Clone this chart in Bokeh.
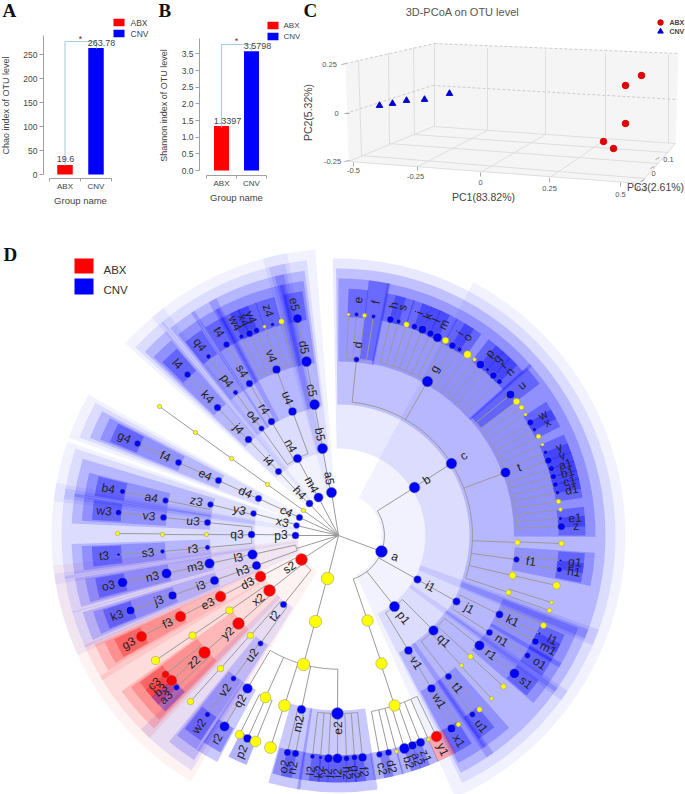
import numpy as np
from bokeh.plotting import figure
from bokeh.layouts import column, row
from bokeh.models import Range1d, FixedTicker, ColumnDataSource
from bokeh.core.properties import value
from bokeh.embed import file_html
from bokeh.resources import INLINE

# ---------- panel A / B data ----------
groups = ["ABX", "CNV"]
group_colors = ["#ff0000", "#0000ff"]
chao_values = [19.6, 263.78]
chao_labels = ["19.6", "263.78"]
chao_ticks = [0, 50, 100, 150, 200, 250]
shannon_values = [1.3397, 3.5798]
shannon_labels = ["1.3397", "3.5798"]
shannon_ticks = [0.0, 0.5, 1.0, 1.5, 2.0, 2.5, 3.0, 3.5]

# ---------- panel C data (projected positions) ----------
pcoa_abx_x = [641, 625, 625, 603, 613]
pcoa_abx_y = [75, 85, 123, 141, 148]
pcoa_cnv_x = [379, 392, 406, 424, 449]
pcoa_cnv_y = [105, 103, 100, 99, 93]

# ---------- panel D data: id, parent, position in the picture, class, size ----------
node_id = [
 "a","b","c","d","_d1","e","_d2","f",
 "g","h","s","_g1","i","k","l","m","_g2","i#2","o","_g3","_g4","p","q","r","n",
 "t","u","_t1","_t2","_t3","w","x","_t4","_t5","y","v","a1","b1","c1","d1","_t6","_t7","e1","z",
 "_c1","_c1a","f1","g1","h1","_c2","_c2a","_c3","_c3a","_c3b",
 "i1","j1","k1","_k1","l1","m1","n1","o1",
 "p1","q1","r1","s1","_q1","_q1a","_q2","_q2a","t1","u1","_t1b","v1","w1","x1","_w1",
 "_a2","_a3","_a4","c2","d2","_a5","b2","a2","z1","_a6","y1",
 "_L1","_L2","_L3","q2","r2","_m1","_m1a","p2","_m1b","_m2","_m2a","m2","o2","n2",
 "e2","l2","k2","j2","i2","h2","g2","f2",
 "s2","d3","e3","f3","g3","x2","_x1","_x2","_x3","y2","z2","c3","b3","a3",
 "t2","_u1","_u2","_u3","u2","v2","w2",
 "_hl","l3","m3","n3","o3","h3","i3","j3","k3",
 "p3","q3","u3","v3","w3","_q3","_q4","_q5","r3","s3","t3",
 "x3","y3","z3","a4","b4","c4","d4","e4","f4","g4","_e1","_e2","_e3","_e4","_e5",
 "h4","i4","j4","k4","l4",
 "m4","n4","o4","p4","q4","r4","s4","t4","u4","v4","w4","x4","y4","_v1","z4","_v2",
 "a5","b5","c5","d5","e5",
]
node_parent = [
 "","a","b","c","d","d","d","d",
 "c","g","g","g","g","g","g","g","g","g","g","g","g","g","g","g","g",
 "c","t","t","t","t","t","t","t","t","t","t","t","t","t","t","t","t","t","t",
 "c","_c1","c","f1","f1","c","_c2","c","_c3","_c3",
 "a","i1","j1","k1","k1","k1","j1","n1",
 "a","p1","q1","r1","q1","_q1","q1","_q2","q1","t1","t1","p1","v1","w1","w1",
 "a","_a2","_a3","_a4","_a4","_a4","_a4","_a4","_a4","_a4","_a4",
 "","_L1","_L2","_L3","q2","_L3","_m1","_m1","_m1","_L3","_m2","_L3","m2","m2",
 "_L3","e2","e2","e2","e2","e2","e2","e2",
 "","s2","d3","e3","f3","s2","x2","_x1","_x2","x2","y2","z2","z2","z2",
 "s2","t2","_u1","_u2","t2","u2","v2",
 "","_hl","l3","m3","n3","_hl","h3","i3","j3",
 "","p3","q3","u3","v3","q3","_q3","_q4","q3","r3","s3",
 "","x3","y3","z3","a4","","c4","d4","e4","f4","","_e1","_e2","_e3","_e4",
 "","h4","i4","j4","k4",
 "","m4","n4","o4","p4","n4","r4","s4","n4","u4","v4","v4","v4","v4","v4","v4",
 "","a5","b5","c5","d5",
]
node_x = [
 381,414,451,356,348,356,364,373,
 427,390,398,406,414,422,430,437,445,452,459,467,474,480,487,493,499,
 505,510,516,521,525,530,534,538,542,545,548,551,553,555,557,558,560,560,561,
 517,561,516,560,559,512,556,508,551,549,
 417,456,499,543,539,535,489,527,
 394,433,479,514,470,503,461,491,448,472,479,408,431,451,458,
 367,381,394,379,388,396,404,412,420,428,436,
 327,315,303,247,224,265,239,247,255,284,270,301,287,295,
 337,312,320,328,337,346,354,362,
 301,260,220,180,141,269,229,192,155,238,204,165,171,176,
 283,250,220,190,260,233,207,
 296,252,209,166,122,256,214,172,130,
 295,251,207,163,118,206,162,117,207,162,118,
 296,253,210,165,122,299,258,218,178,137,303,267,231,195,159,
 309,278,248,217,187,
 318,297,261,235,208,271,249,226,292,276,241,249,256,264,272,281,
 331,322,314,306,297,
]
node_y = [
 551,487,463,359,314,314,315,316,
 381,319,321,324,326,329,333,337,340,345,349,354,359,364,369,375,381,
 472,394,401,407,414,422,429,436,444,452,460,468,476,484,492,501,509,518,526,
 542,543,559,560,569,575,585,592,602,610,
 579,601,614,625,633,641,632,655,
 606,630,645,673,656,686,665,698,676,714,709,650,688,728,724,
 620,663,705,754,752,751,748,745,742,739,736,
 578,621,664,688,726,697,734,738,741,705,747,709,752,753,
 713,756,757,758,758,758,757,757,
 559,576,596,616,636,590,610,635,660,623,652,674,680,687,
 604,635,668,701,643,678,714,
 548,554,563,573,582,565,580,595,610,
 535,534,522,517,512,534,534,533,547,551,554,
 525,513,504,500,491,517,498,480,462,443,510,484,458,432,406,
 503,471,439,407,374,
 497,458,428,392,356,421,383,344,411,369,336,333,330,326,324,321,
 492,448,404,361,318,
]
node_kind = [
 "b","b","b","b","y","b","y","b",
 "b","b","b","y","b","b","b","b","y","b","b","y","y","b","b","b","b",
 "b","b","y","y","y","b","b","y","y","b","b","b","b","b","b","y","y","b","b",
 "y","y","b","b","b","y","y","y","y","y",
 "b","b","b","y","b","b","b","b",
 "b","b","b","b","y","y","y","y","b","b","y","b","b","b","y",
 "y","y","y","b","b","y","b","b","b","y","r",
 "y","y","y","b","b","y","y","b","y","y","y","b","b","b",
 "b","b","b","b","b","b","b","b",
 "r","r","r","r","r","r","y","y","y","r","r","r","r","b",
 "b","y","y","y","b","b","b",
 "n","b","b","b","b","b","b","b","b",
 "b","b","b","b","b","y","y","y","b","b","b",
 "b","b","b","b","b","b","b","b","b","b","y","y","y","y","y",
 "b","b","b","b","b",
 "b","b","b","b","b","b","b","b","b","b","b","b","b","y","b","y",
 "b","b","b","b","b",
]
node_size = [
 11,10,10,5,3,4,4,4,
 10,6.5,4.5,5,5.5,7.5,6.5,8.5,6,6.5,4.5,7,3.5,7.5,3.5,6.5,5,
 9,7.5,6,4.5,3,6,4,4.5,3,4,6.5,5.5,5.5,5,4,4.5,3.5,3.5,7,
 5,5,5.5,2.5,5,6.5,7,5,3.5,4.5,
 7,7,7,5.5,2.5,6.5,6,5.5,
 9.5,9,9,9,5,5,3.5,3.5,6,5.5,5,7.5,7.5,7.5,4.5,
 10.5,10.5,10.5,5.5,6,3.5,9.5,7.5,8,3.5,10,
 11.5,11.5,11.5,9,9,10,8,7.5,10,11,11,8,6.5,6.5,
 11,4.5,3.5,8,9,5.5,5.5,8,
 11,10,10,10,10,11,7,7,7.5,11,11,7,10,5.5,
 6,6,6,6,5,5,5,
 0,9,9,9,9,8,8,7.5,7.5,
 6.5,6.5,6,6,5.5,4,4,4,4.5,4,3,
 5.5,5.5,5.5,5.5,5,6,6,6,6,6,4,4,4,4,4,
 6.5,6,6.5,6.5,6,
 8.5,8,5,4.5,4.5,6.5,6.5,6,7.5,7.5,4.5,6.5,5.5,3,3.5,5,
 9.5,9.5,9.5,9.5,8.5,
]

FONT = "Liberation Sans"
SERIF = "Liberation Serif"
TXT = "#444444"
AX = "#a0a0a0"
BRK = "#a9cde0"


def ptext(p, x, y, txt, size, color=TXT, align="center", font=FONT, style="normal", angle=0):
    p.text([x], [y], text=[txt], text_font=value(font), text_font_size=f"{size}px",
           text_color=color, text_align=align, text_baseline="middle",
           text_font_style=style, angle=angle, angle_units="deg")


def bar_panel(letter, letter_x, values, labels, ticks, ylabel, w, band, px_origin, py0, py_per,
              px_axis, py_axis, py_top, lab_pos, bracket, star_pos, swatch_x, swatch_y, legend_x,
              ylabel_pos, group_x, legend_size, fmt=None):
    H = 215
    xr = Range1d((0 - px_origin) / band, (w - px_origin) / band)
    yr = Range1d((py0 - H) / py_per, py0 / py_per)
    p = figure(width=w, height=H, x_range=xr, y_range=yr, output_backend="svg", toolbar_location=None,
               min_border=0, outline_line_color=None, background_fill_color="white")
    p.grid.visible = False
    sx = lambda px: (px - px_origin) / band
    sy = lambda py: (py0 - py) / py_per
    p.vbar(x=[0.5, 1.5], top=values, width=0.5, bottom=0, color=group_colors, line_color=None)
    # axes
    ya = p.yaxis[0]
    ya.fixed_location = sx(px_axis)
    ya.ticker = FixedTicker(ticks=ticks)
    ya.bounds = (0, sy(py_top))
    ya.major_tick_out, ya.major_tick_in, ya.minor_tick_out, ya.minor_tick_in = 4, 0, 0, 0
    ya.axis_line_color = AX
    ya.major_tick_line_color = AX
    ya.major_label_text_font = FONT
    ya.major_label_text_font_size = "8.5px"
    ya.major_label_text_color = TXT
    ya.major_label_standoff = 2
    if fmt:
        ya.major_label_overrides = {t: fmt % t for t in ticks}
    xa = p.xaxis[0]
    xa.fixed_location = sy(py_axis)
    xa.ticker = FixedTicker(ticks=[0.5, 1.5], minor_ticks=[0, 1, 2])
    xa.major_label_overrides = {0.5: groups[0], 1.5: groups[1]}
    xa.bounds = (0, 2)
    xa.major_tick_out, xa.major_tick_in = 0, 0
    xa.minor_tick_out, xa.minor_tick_in = 3, 0
    xa.axis_line_color = AX
    xa.minor_tick_line_color = AX
    xa.major_label_text_font = FONT
    xa.major_label_text_font_size = "8px"
    xa.major_label_text_color = TXT
    xa.major_label_standoff = 0
    ptext(p, sx(ylabel_pos[0]), sy(ylabel_pos[1]), ylabel, 9, angle=90)
    ptext(p, sx(group_x), sy(lab_pos[2]), "Group name", 9.5)
    # bracket and star
    p.line([sx(v) for v in bracket[0]], [sy(v) for v in bracket[1]], line_color=BRK, line_width=1.1)
    ptext(p, sx(star_pos[0]), sy(star_pos[1]), "*", 9, color="#7a1f1f")
    ptext(p, sx(lab_pos[0][0]), sy(lab_pos[0][1]), labels[0], 9)
    ptext(p, sx(lab_pos[1][0]), sy(lab_pos[1][1]), labels[1], 9)
    # legend
    for i, g in enumerate(groups):
        p.quad(left=[sx(swatch_x)], right=[sx(swatch_x + 11)],
               top=[sy(swatch_y[i] - 3.7)], bottom=[sy(swatch_y[i] + 3.7)],
               color=group_colors[i], line_color=None)
        ptext(p, sx(legend_x), sy(swatch_y[i]), g, legend_size, align="left")
    ptext(p, sx(letter_x), sy(10), letter, 19, color="#111111", font=SERIF, style="bold", align="left")
    return p


pA = bar_panel("A", 2, chao_values, chao_labels, chao_ticks, "Chao index of OTU level", 150,
               31, 49, 174, 0.48, 43, 178, 35,
               [(65, 158.5), (101, 42), 200],
               ([64.5, 64.5, 96, 96], [165, 41, 41, 48]), (80, 38), 113, (22, 33), 130,
               (5, 105), 80, 8.5)
# panel B lives at page x 150..300
pB = bar_panel("B", 8, shannon_values, shannon_labels, shannon_ticks, "Shannon index of OTU level", 150,
               30, 56, 170, 33.3, 49, 175, 38,
               [(77, 120), (107, 45), 197],
               ([71, 71, 101, 101], [127, 44, 44, 50]), (86, 40), 117, (25, 36), 133,
               (13, 105), 86, 8, fmt="%.1f")

# ---------- panel C ----------
pC = figure(width=385, height=215, x_range=Range1d(300, 685), y_range=Range1d(0, 215),
            output_backend="svg", toolbar_location=None, min_border=0, outline_line_color=None)
pC.axis.visible = False
pC.grid.visible = False
Yc = lambda v: 215 - np.asarray(v, dtype=float)
WALL = "#f5f5f5"
GR = "#dedede"
for xs, ys in [([345, 434, 434, 348], [63, 43, 126, 161]),
               ([434, 678, 675, 434], [43, 53, 143, 126]),
               ([348, 433, 675, 640], [161, 126, 143, 183])]:
    pC.patch(xs, Yc(ys), fill_color=WALL, line_color=None)
for xs, ys in [([487, 487], [48, 130]), ([545, 545], [50, 134]), ([605, 605], [52, 139]), ([668, 668], [54, 143]),
               ([358, 361], [60, 155]), ([388, 389], [52, 144]), ([413, 414], [47, 134]),
               ([434, 434], [43, 126]),
               ([417, 487], [166, 130]), ([480, 545], [172, 134]), ([548, 605], [178, 139]),
               ([361, 645], [155, 178]), ([388, 658], [143, 163]), ([413, 668], [134, 152]),
               ([348, 433], [161, 126]), ([433, 675], [126, 143]), ([348, 640], [161, 183]), ([640, 675], [183, 143])]:
    pC.line(xs, Yc(ys), line_color=GR, line_width=1)
for xs, ys in [([345, 434], [63, 43]), ([434, 678], [43, 53]), ([345, 432], [113, 85]), ([432, 677], [85, 99])]:
    pC.line(xs, Yc(ys), line_color="#cccccc", line_width=1, line_dash="3 2")
for xs, ys in [([341, 346], [64, 63]), ([344, 349], [113, 113]), ([344, 349], [161, 160]),
               ([353, 353], [162, 166]), ([417, 417], [166, 170]), ([480, 480], [172, 176]),
               ([549, 549], [178, 182]), ([620, 620], [182, 186]),
               ([655, 659], [159, 157]), ([650, 654], [168, 166]), ([640, 644], [181, 179])]:
    pC.line(xs, Yc(ys), line_color="#aaaaaa", line_width=1)
pC.scatter(pcoa_abx_x, Yc(pcoa_abx_y), marker="circle", size=6.5, color="#e00000")
pC.scatter(pcoa_cnv_x, Yc(pcoa_cnv_y), marker="triangle", size=6.5, color="#0000d0")
pC.scatter([660], Yc([22]), marker="circle", size=5.5, color="#e00000")
pC.scatter([660], Yc([31]), marker="triangle", size=5.5, color="#0000d0")
ptext(pC, 669, 215 - 22, "ABX", 7, align="left", style="bold")
ptext(pC, 669, 215 - 31, "CNV", 7, align="left", style="bold")
ptext(pC, 462, 215 - 11, "3D-PCoA on OTU level", 11, color="#555555")
ptext(pC, 303, 215 - 10, "C", 19, color="#111111", font=SERIF, style="bold", align="left")
for x, y, t in [(329, 64, "0.25"), (336, 113, "0"), (332, 161, "-0.25"), (353, 170, "-0.5"), (415, 176, "-0.25"),
                (480, 182, "0"), (549, 188, "0.25"), (620, 194, "0.5"), (668, 159, "0.1"), (653, 173, "0"),
                (640, 188, "-0.1")]:
    ptext(pC, x, 215 - y, t, 7.5, color="#555555")
ptext(pC, 483, 215 - 196, "PC1(83.82%)", 10.5)
ptext(pC, 307, 215 - 112, "PC2(5.32%)", 10.5, angle=90)
ptext(pC, 655, 215 - 186, "PC3(2.61%)", 10.5)

# ---------- panel D ----------
CX, CY = 338.0, 535.0
pD = figure(width=685, height=579, x_range=Range1d(0, 685), y_range=Range1d(0, 579),
            output_backend="svg", toolbar_location=None, min_border=0, outline_line_color=None)
pD.axis.visible = False
pD.grid.visible = False
Yd = lambda py: 794.0 - py
LEVEL_STEP = 44.0
theta = {}
radius = {}
level = {}
for nid, x, y in zip(node_id, node_x, node_y):
    t = np.degrees(np.arctan2(CY - y, x - CX)) % 360
    if t > 278:
        t -= 360
    theta[nid] = t
    radius[nid] = float(np.hypot(x - CX, y - CY))
    level[nid] = int(round(radius[nid] / LEVEL_STEP))
children = {}
for nid, par in zip(node_id, node_parent):
    children.setdefault(par, []).append(nid)


def subtree(n):
    out = [n]
    for c in children.get(n, []):
        out += subtree(c)
    return out


kind_of = dict(zip(node_id, node_kind))
R_OUT = {1: 287, 2: 277, 3: 267, 4: 257, 5: 247}
ALPHA = {1: 0.05, 2: 0.09, 3: 0.17, 4: 0.21, 5: 0.30}
PAD = {1: 4.6, 2: 3.8, 3: 3.1, 4: 2.6, 5: 2.3}
SPAN_OVERRIDE = {"a": (-66.0, 62.0), "s2": (186.0, 239.0)}
R_IN_OVERRIDE = {"f": 178.0, "u": 178.0}
R_OUT_OVERRIDE = {"f": 257.0, "u": 252.0}
COL = {"b": "#0000ff", "r": "#ff0000", "y": "#ffff00", "n": "#888888"}
order = sorted([n for n in node_id if kind_of[n] in "br" or n == "_hl"], key=lambda n: level[n])
wedge = dict(s=[], e=[], ri=[], ro=[], c=[], al=[])
for n in order:
    ths = [theta[m] for m in subtree(n)]
    lv = level[n]
    s, e = SPAN_OVERRIDE.get(n, (min(ths) - PAD[lv], max(ths) + PAD[lv]))
    wedge["s"].append(s)
    wedge["e"].append(e)
    wedge["ri"].append(R_IN_OVERRIDE.get(n, radius[n] - 3))
    wedge["ro"].append(R_OUT_OVERRIDE.get(n, R_OUT[lv]))
    wedge["c"].append(COL["b"] if n == "_hl" else COL[kind_of[n]])
    wedge["al"].append(ALPHA[lv])
src = ColumnDataSource(dict(wedge, x=[CX] * len(order), y=[Yd(CY)] * len(order)))
pD.annular_wedge(x="x", y="y", inner_radius="ri", outer_radius="ro", start_angle="s", end_angle="e",
                 start_angle_units="deg", end_angle_units="deg", fill_color="c", fill_alpha="al",
                 line_color=None, source=src)

# edges
EDGE = "#9a9a9a"
xs, ys = [], []
for nid, par in zip(node_id, node_parent):
    rp = radius[par] if par else 0.0
    t = np.radians(theta[nid])
    xs.append([CX + rp * np.cos(t), CX + radius[nid] * np.cos(t)])
    ys.append([Yd(CY) + rp * np.sin(t), Yd(CY) + radius[nid] * np.sin(t)])
for par, kids in children.items():
    if not par:
        continue
    ths = [theta[k] for k in kids] + [theta[par]]
    aa = np.radians(np.linspace(min(ths), max(ths), 40))
    xs.append(list(CX + radius[par] * np.cos(aa)))
    ys.append(list(Yd(CY) + radius[par] * np.sin(aa)))
pD.multi_line(xs, ys, line_color=EDGE, line_width=1)

# nodes
vis = [i for i, k in enumerate(node_kind) if k != "n"]
pD.scatter([node_x[i] for i in vis], [Yd(node_y[i]) for i in vis], marker="circle",
           size=[node_size[i] * 1.08 for i in vis], fill_color=[COL[node_kind[i]] for i in vis],
           line_color="#8a8a8a", line_width=0.5)

# labels
lab_x, lab_y, lab_t, lab_a = [], [], [], []
for nid in node_id:
    if nid.startswith("_"):
        continue
    t = np.radians(theta[nid])
    lab_x.append(CX + (radius[nid] + 14.5) * np.cos(t))
    lab_y.append(Yd(CY) + (radius[nid] + 14.5) * np.sin(t))
    lab_t.append(nid.split("#")[0])
    lab_a.append(theta[nid] if np.cos(t) > 0 else theta[nid] + 180)
pD.text(lab_x, lab_y, text=lab_t, angle=lab_a, angle_units="deg", text_font=value(FONT),
        text_font_size="12px", text_color="#222222", text_align="center", text_baseline="middle")

# legend + letter
for (top, bot, c) in [(258, 273, "#ff0000"), (278, 294, "#0000ff")]:
    pD.quad(left=[74], right=[93], top=[Yd(top)], bottom=[Yd(bot)], color=c, line_color=None)
ptext(pD, 103, Yd(269), groups[0], 11.5, color="#333333", align="left")
ptext(pD, 103, Yd(289), groups[1], 11.5, color="#333333", align="left")
ptext(pD, 3, Yd(254), "D", 19, color="#111111", font=SERIF, style="bold", align="left")

top_row = row(pA, pB, pC, spacing=0)
layout = column(top_row, pD, spacing=0,
                styles={"position": "absolute", "left": "0px", "top": "0px"})
open("out.html", "w").write(file_html(layout, INLINE))
